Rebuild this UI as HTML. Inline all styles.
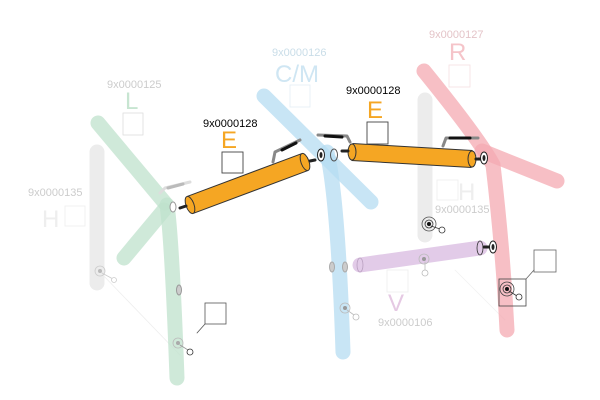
<!DOCTYPE html>
<html><head><style>body{margin:0;background:#fff}svg{display:block}text{font-family:"Liberation Sans",sans-serif}</style></head><body>
<svg width="600" height="400" viewBox="0 0 600 400" xmlns="http://www.w3.org/2000/svg">
<g stroke-linecap="round" fill="none">
<line x1="100" y1="272" x2="180" y2="355" stroke="#eee" stroke-width="0.8"/>
<line x1="455" y1="270" x2="505" y2="320" stroke="#f2f2f2" stroke-width="0.8"/>
<line x1="97" y1="152" x2="97" y2="283" stroke="#ececec" stroke-width="15"/>
<line x1="425" y1="100" x2="425" y2="235" stroke="#ececec" stroke-width="15"/>
<g stroke="#bfe2cc" stroke-opacity="0.75" stroke-width="15">
<line x1="98" y1="123" x2="165" y2="203"/>
<line x1="124" y1="258" x2="164" y2="210"/>
<path d="M167 205 Q172 240 177 378"/>
</g>
<g stroke="#b5dcf2" stroke-opacity="0.75" stroke-width="15">
<line x1="264" y1="96" x2="371" y2="202"/>
<path d="M327 152 Q338 200 343 352"/>
</g>
<g stroke="#f4aab2" stroke-opacity="0.75" stroke-width="15">
<line x1="482" y1="151" x2="557" y2="181"/>
<path d="M424 71 Q480 140 493 165 Q503 250 507 330"/>
</g>
<line x1="360" y1="265" x2="480" y2="248" stroke="#e2cbe8" stroke-width="15"/>
<ellipse cx="360" cy="265" rx="3" ry="7" fill="#e2cbe8" stroke="#b9a0c0" stroke-width="0.8"/>
<ellipse cx="480" cy="248" rx="3" ry="7" fill="#e2cbe8" stroke="#333" stroke-width="0.8"/>
<line x1="190" y1="205" x2="305" y2="162" stroke="#333" stroke-width="19" stroke-linecap="butt"/>
<line x1="190" y1="205" x2="305" y2="162" stroke="#f5a623" stroke-width="17" stroke-linecap="butt"/>
<ellipse cx="190" cy="205" rx="4" ry="9" transform="rotate(-20 190 205)" fill="#f5a623" stroke="#333"/>
<ellipse cx="305" cy="162" rx="4" ry="9" transform="rotate(-20 305 162)" fill="#f5a623" stroke="#333"/>
<line x1="352" y1="152" x2="472" y2="159" stroke="#333" stroke-width="18" stroke-linecap="butt"/>
<line x1="352" y1="152" x2="472" y2="159" stroke="#f5a623" stroke-width="16" stroke-linecap="butt"/>
<ellipse cx="352" cy="152" rx="4" ry="8" fill="#f5a623" stroke="#333"/>
<ellipse cx="472" cy="159" rx="4" ry="8" fill="#f5a623" stroke="#333"/>
<g stroke="#888" stroke-width="3" stroke-linejoin="round">
<path d="M273 162 L275 152 L300 140"/>
<path d="M318 135 L347 136 L350 142"/>
<path d="M443 146 L446 138 L478 138"/>
<path d="M160 193 L165 188 L190 182" stroke="#ddd"/>
</g>
<g stroke="#111" stroke-width="3">
<line x1="282" y1="150" x2="296" y2="143"/>
<line x1="325" y1="136" x2="342" y2="137"/>
<line x1="450" y1="138" x2="470" y2="138"/>
<line x1="168" y1="188" x2="183" y2="184" stroke="#bbb"/>
</g>
<g stroke="#222" stroke-width="1">
<line x1="180" y1="208" x2="186" y2="206" stroke-width="3"/>
<line x1="310" y1="161" x2="315" y2="160" stroke-width="3"/>
<line x1="342" y1="151" x2="348" y2="151" stroke-width="3"/>
<line x1="476" y1="159" x2="481" y2="159" stroke-width="3"/>
<line x1="484" y1="247" x2="489" y2="247" stroke-width="3"/>
</g>
<ellipse cx="321" cy="155" rx="3.5" ry="6" fill="#fff" stroke="#222"/>
<ellipse cx="321" cy="155" rx="1.5" ry="3" fill="#222"/>
<ellipse cx="334" cy="155" rx="3.5" ry="6" fill="none" stroke="#555"/>
<ellipse cx="484" cy="158" rx="3.5" ry="6" fill="#fff" stroke="#222"/>
<ellipse cx="484" cy="158" rx="1.5" ry="3" fill="#222"/>
<ellipse cx="493" cy="247" rx="3.5" ry="6" fill="#fff" stroke="#222"/>
<ellipse cx="493" cy="247" rx="1.5" ry="3" fill="#222"/>
<ellipse cx="173" cy="207" rx="3" ry="5" fill="#fff" stroke="#999"/>
<ellipse cx="179" cy="290" rx="2.5" ry="5" fill="#ccc" stroke="#999"/>
<ellipse cx="332" cy="267" rx="2.5" ry="5" fill="#ccc" stroke="#aaa"/>
<ellipse cx="345" cy="267" rx="2.5" ry="5" fill="#ccc" stroke="#aaa"/>
<g stroke-width="0.8">
<circle cx="100" cy="271" r="5" stroke="#ccc"/><circle cx="100" cy="271" r="2" fill="#bbb"/>
<line x1="102" y1="273" x2="113" y2="279" stroke="#ccc"/><circle cx="114" cy="280" r="2.5" stroke="#ccc" fill="#fff"/>
<circle cx="178" cy="343" r="5" stroke="#bbb"/><circle cx="178" cy="343" r="2" fill="#aaa"/>
<line x1="180" y1="345" x2="188" y2="350" stroke="#999"/><circle cx="190" cy="352" r="3" stroke="#333" fill="#fff"/>
<circle cx="429" cy="224" r="7" stroke="#555"/><circle cx="429" cy="224" r="4" stroke="#333"/><circle cx="429" cy="224" r="2" fill="#111"/>
<line x1="431" y1="226" x2="440" y2="229" stroke="#333"/><circle cx="442" cy="230" r="3" stroke="#333" fill="#fff"/>
<circle cx="424" cy="259" r="5" stroke="#bbb"/><circle cx="424" cy="259" r="2" fill="#999"/>
<line x1="425" y1="262" x2="425" y2="270" stroke="#bbb"/><circle cx="425" cy="273" r="3" stroke="#bbb" fill="#fff"/>
<circle cx="345" cy="308" r="5" stroke="#bbb"/><circle cx="345" cy="308" r="2" fill="#999"/>
<line x1="347" y1="310" x2="354" y2="315" stroke="#bbb"/><circle cx="356" cy="317" r="3" stroke="#bbb" fill="#fff"/>
<circle cx="507" cy="289" r="7" stroke="#444"/><circle cx="507" cy="289" r="4" stroke="#333"/><circle cx="507" cy="289" r="2" fill="#111"/>
<line x1="509" y1="291" x2="517" y2="296" stroke="#333"/><circle cx="519" cy="297" r="3" stroke="#333" fill="#fff"/>
</g>
<rect x="499" y="279" width="27" height="27" stroke="#444" stroke-width="0.8"/>
<rect x="534" y="250" width="22" height="22" stroke="#666" stroke-width="0.8"/>
<line x1="526" y1="279" x2="534" y2="270" stroke="#666" stroke-width="0.8"/>
<rect x="205" y="303" width="21" height="21" stroke="#555" stroke-width="0.8"/>
<line x1="205" y1="324" x2="197" y2="333" stroke="#555" stroke-width="0.8"/>
<rect x="222" y="152" width="21" height="21" stroke="#444" stroke-width="0.9"/>
<rect x="367" y="122" width="21" height="22" stroke="#444" stroke-width="0.9"/>
<rect x="123" y="113" width="20" height="22" stroke="#ddd" stroke-width="0.8"/>
<rect x="65" y="206" width="20" height="20" stroke="#eee" stroke-width="0.8"/>
<rect x="290" y="85" width="20" height="22" stroke="#e3eef5" stroke-width="0.8"/>
<rect x="449" y="65" width="21" height="22" stroke="#f5e0e2" stroke-width="0.8"/>
<rect x="437" y="180" width="21" height="20" stroke="#eee" stroke-width="0.8"/>
<rect x="387" y="270" width="21" height="22" stroke="#eee" stroke-width="0.8"/>
</g>
<g font-size="11">
<text x="107" y="88" fill="#ccc">9x0000125</text>
<text x="28" y="196" fill="#ccc">9x0000135</text>
<text x="272" y="56" fill="#c9dde8">9x0000126</text>
<text x="429" y="38" fill="#e4c4c8">9x0000127</text>
<text x="435" y="213" fill="#ccc">9x0000135</text>
<text x="378" y="326" fill="#ccc">9x0000106</text>
<text x="203" y="127" fill="#000">9x0000128</text>
<text x="346" y="94" fill="#000">9x0000128</text>
</g>
<g font-size="24">
<text x="125" y="109" fill="#c7e5d1">L</text>
<text x="42" y="227" fill="#eee">H</text>
<text x="458" y="200" fill="#eee">H</text>
<text x="275" y="82" fill="#cfe6f3">C/M</text>
<text x="449" y="60" fill="#f5c4c9">R</text>
<text x="388" y="311" fill="#e5c9e3">V</text>
<text x="221" y="148" fill="#f5a623">E</text>
<text x="367" y="118" fill="#f5a623">E</text>
</g>
</svg>
</body></html>
